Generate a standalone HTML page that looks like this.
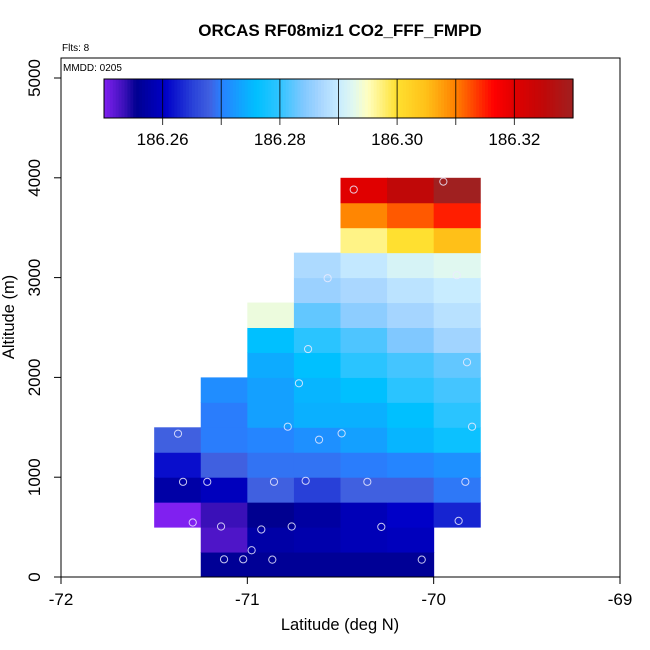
<!DOCTYPE html>
<html><head><meta charset="utf-8"><style>
html,body{margin:0;padding:0;background:#fff;}
svg{display:block;font-family:"Liberation Sans",Arial,sans-serif;}
</style></head><body>
<svg id="chart" width="650" height="650" viewBox="0 0 650 650">
<text x="340" y="36" text-anchor="middle" font-size="17" font-weight="bold">ORCAS RF08miz1 CO2_FFF_FMPD</text>
<text x="62" y="51" font-size="10">Flts: 8</text>
<text x="63" y="71" font-size="10">MMDD: 0205</text>
<text x="340" y="630" text-anchor="middle" font-size="16.5">Latitude (deg N)</text>
<text transform="translate(14,317) rotate(-90)" text-anchor="middle" font-size="16.5">Altitude (m)</text>
<g id="cells"></g>
<g id="pts"></g>
<g id="axes"></g>
<g id="cbar"></g>
</svg>
<script>
const colLons = [-71.5,-71.25,-71.0,-70.75,-70.5,-70.25,-70.0];
const rowAlts = [0,250,500,750,1000,1250,1500,1750,2000,2250,2500,2750,3000,3250,3500,3750];
const r0  = [null,186.256,186.256,186.256,186.256,186.256,null];
const r1  = [null,186.2525,186.2575,186.258,186.259,186.2595,null];
const r2  = [186.250,186.2535,186.2555,186.257,186.259,186.2605,186.263];
const r3  = [186.2575,186.2595,186.268,186.265,186.268,186.268,186.2695];
const r4  = [186.2615,186.268,186.2692,186.2692,186.2698,186.2705,186.2715];
const r5  = [186.268,186.2698,186.2705,186.2715,186.273,186.275,186.277];
const r6  = [null,186.2698,186.273,186.2745,186.2745,186.276,186.2795];
const r7  = [null,186.2712,186.273,186.275,186.276,186.2795,186.281];
const r8  = [null,null,186.274,186.276,186.2795,186.281,186.2825];
const r9  = [null,null,186.276,186.2795,186.2815,186.284,186.2865];
const r10 = [null,null,186.2935,186.2825,186.285,186.2868,186.2885];
const r11 = [null,null,null,186.286,186.2872,186.2888,186.290];
const r12 = [null,null,null,186.2875,186.2895,186.2915,186.2925];
const r13 = [null,null,null,null,186.297,186.300,186.305];
const r14 = [null,null,null,null,186.3095,186.312,186.315];
const r15 = [null,null,null,null,186.320,186.325,186.330];
const grid = [r0,r1,r2,r3,r4,r5,r6,r7,r8,r9,r10,r11,r12,r13,r14,r15];
const ptLon = [-70.429,-69.948,-70.569,-69.876,-70.674,-69.821,-70.723,-70.783,-69.794,-71.372,-70.615,-70.494,-71.345,-71.215,-70.857,-70.687,-70.356,-69.830,-71.293,-71.141,-70.925,-70.762,-70.281,-69.866,-70.977,-71.125,-71.022,-70.866,-70.064];
const ptAlt = [3882,3962,2994,3024,2284,2152,1941,1506,1506,1436,1376,1439,954,954,954,964,954,954,546,506,476,506,502,562,268,177,177,174,174];
const xTicks = [-72,-71,-70,-69];
const yTicks = [0,1000,2000,3000,4000,5000];
const cbTicks = [186.26,186.28,186.30,186.32];
const cbMin = 186.25, cbMax = 186.33;

const stops = [[186.250,'#8020f0'],[186.2535,'#3a10b8'],[186.2555,'#000090'],[186.2605,'#0000c8'],[186.265,'#2840d8'],[186.268,'#4060e0'],[186.270,'#2880ff'],[186.276,'#00c0ff'],[186.280,'#30c4ff'],[186.284,'#80c8ff'],[186.287,'#a8d6ff'],[186.290,'#c8ecff'],[186.2925,'#e0f8f0'],[186.295,'#ffffc0'],[186.300,'#ffe030'],[186.305,'#ffc018'],[186.310,'#ff8000'],[186.3165,'#ff0000'],[186.320,'#e00000'],[186.325,'#c00808'],[186.330,'#a02020']];
function hex(c){return [1,3,5].map(i=>parseInt(c.substr(i,2),16));}
function cmap(v){
  if(v<=stops[0][0]) return stops[0][1];
  for(let i=1;i<stops.length;i++){
    if(v<=stops[i][0]){
      const t=(v-stops[i-1][0])/(stops[i][0]-stops[i-1][0]);
      const a=hex(stops[i-1][1]),b=hex(stops[i][1]);
      return 'rgb('+a.map((x,k)=>Math.round(x+(b[k]-x)*t)).join(',')+')';
    }
  }
  return stops[stops.length-1][1];
}
const L=61,R=620,T=58,B=577;
const xS=lon=>L+(lon+72)/3*(R-L);
const yS=alt=>B-alt/5000*(B-78);
const NS='http://www.w3.org/2000/svg';
function mk(tag,attrs,parent){const e=document.createElementNS(NS,tag);for(const k in attrs)e.setAttribute(k,attrs[k]);parent.appendChild(e);return e;}
const cells=document.getElementById('cells');
grid.forEach((row,ri)=>row.forEach((v,ci)=>{
  if(v===null) return;
  const x0=xS(colLons[ci]),x1=xS(colLons[ci]+0.25),y1=yS(rowAlts[ri]),y0=yS(rowAlts[ri]+250);
  const r=mk('rect',{x:x0,y:y0,width:x1-x0+0.5,height:y1-y0+0.5,fill:cmap(v)},cells);
  
  
}));
const pts=document.getElementById('pts');
ptLon.forEach((lon,i)=>{
  const c=mk('circle',{cx:xS(lon),cy:yS(ptAlt[i]),r:3.6,fill:'none',stroke:'rgba(235,235,255,0.85)','stroke-width':1},pts);
  
  
});
const ax=document.getElementById('axes');
const box=mk('rect',{x:L,y:T,width:R-L,height:B-T,fill:'none',stroke:'#000','stroke-width':1},ax);


xTicks.forEach(t=>{
  const x=xS(t);
  mk('line',{x1:x,y1:B,x2:x,y2:B+7,stroke:'#000'},ax);
  const tx=mk('text',{x:x,y:B+28,'text-anchor':'middle','font-size':17},ax);
  tx.textContent=t;
  
  
});
yTicks.forEach(t=>{
  const y=yS(t);
  mk('line',{x1:L,y1:y,x2:L-7,y2:y,stroke:'#000'},ax);
  const tx=mk('text',{transform:'translate('+(L-21)+','+y+') rotate(-90)','text-anchor':'middle','font-size':17},ax);
  tx.textContent=t;
  
  
});
const cb=document.getElementById('cbar');
const cL=104,cR=573,cT=79,cB=118;
const cx=v=>cL+(v-cbMin)/(cbMax-cbMin)*(cR-cL);
for(let i=0;i<160;i++){
  const v0=cbMin+(cbMax-cbMin)*i/160,v1=cbMin+(cbMax-cbMin)*(i+1)/160;
  mk('rect',{x:cx(v0),y:cT,width:cx(v1)-cx(v0)+0.6,height:cB-cT,fill:cmap((v0+v1)/2)},cb);
}
mk('rect',{x:cL,y:cT,width:cR-cL,height:cB-cT,fill:'none',stroke:'#000'},cb);
for(let k=1;k<8;k++){
  const x=cx(cbMin+k*0.01);
  mk('line',{x1:x,y1:cT,x2:x,y2:cB+7,stroke:'#000','stroke-opacity':0.8},cb);
}
cbTicks.forEach(t=>{
  const tx=mk('text',{x:cx(t),y:145,'text-anchor':'middle','font-size':17},cb);
  tx.textContent=t.toFixed(2);
  
  
});
</script>
</body></html>
